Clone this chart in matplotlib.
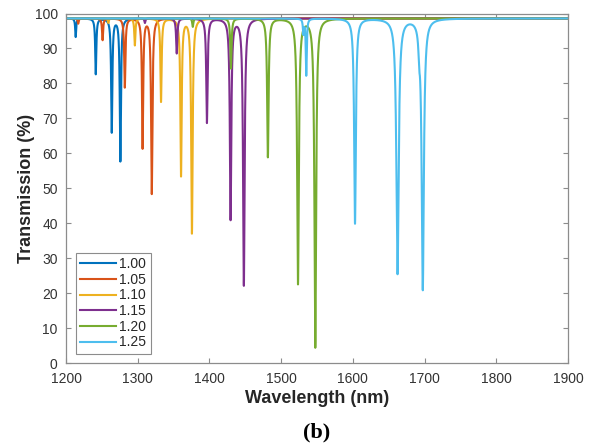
import numpy as np
import matplotlib
matplotlib.use("Agg")
import matplotlib.pyplot as plt

# ---- data (dip centre [nm], dip minimum [%], half width [nm]) ----
labels = ["1.00", "1.05", "1.10", "1.15", "1.20", "1.25"]
colors = ["#0072BD", "#D95319", "#EDB120", "#7E2F8E", "#77AC30", "#4DBEEE"]
baseline = 98.6

centers_100 = [1213.5, 1241.5, 1263.8, 1275.8]
minima_100 = [93.3, 82.7, 66.2, 57.9]
widths_100 = [0.8, 0.9, 1.0, 1.0]

centers_105 = [1217.0, 1251.0, 1282.0, 1306.8, 1319.6]
minima_105 = [97.1, 92.4, 78.9, 61.7, 48.6]
widths_105 = [0.8, 0.9, 1.0, 1.0, 1.1]

centers_110 = [1259.0, 1296.0, 1332.5, 1360.4, 1375.6]
minima_110 = [97.3, 90.9, 74.8, 53.8, 37.3]
widths_110 = [0.8, 0.9, 1.0, 1.1, 1.2]

centers_115 = [1310.0, 1354.4, 1396.5, 1429.5, 1448.0]
minima_115 = [97.3, 88.6, 68.8, 41.3, 22.4]
widths_115 = [0.8, 1.0, 1.1, 1.2, 1.3]

centers_120 = [1376.8, 1430.0, 1481.5, 1523.5, 1547.6]
minima_120 = [96.2, 84.3, 59.0, 22.9, 4.7]
widths_120 = [0.9, 1.0, 1.2, 1.4, 1.4]

centers_125 = [1531.0, 1535.0, 1603.0, 1662.3, 1692.5, 1697.5]
minima_125 = [94.5, 82.4, 40.0, 25.7, 93.0, 21.4]
widths_125 = [0.8, 0.8, 1.4, 1.9, 1.2, 1.8]

series = [
    (centers_100, minima_100, widths_100),
    (centers_105, minima_105, widths_105),
    (centers_110, minima_110, widths_110),
    (centers_115, minima_115, widths_115),
    (centers_120, minima_120, widths_120),
    (centers_125, minima_125, widths_125),
]

x_ticks = [1200, 1300, 1400, 1500, 1600, 1700, 1800, 1900]
y_ticks = [0, 10, 20, 30, 40, 50, 60, 70, 80, 90, 100]

wl = np.arange(1200.0, 1900.0001, 0.05)


def spectrum(centers, minima, widths):
    t = np.full_like(wl, baseline)
    for c, m, g in zip(centers, minima, widths):
        t -= (baseline - m) * g**2 / ((wl - c) ** 2 + g**2)
    return np.clip(t, 0, 100)


plt.rcParams["font.family"] = ["Liberation Sans", "DejaVu Sans"]

fig = plt.figure(figsize=(5.99, 4.47), dpi=100)
ax = fig.add_axes([66 / 599, 1 - 363.3 / 447, (568 - 66) / 599, (363.3 - 13.5) / 447])

for (c, m, g), lab, col in zip(series, labels, colors):
    ax.plot(wl, spectrum(c, m, g), color=col, lw=1.5, label=lab)

ax.set_xlim(1200, 1900)
ax.set_ylim(0, 100)
ax.set_xticks(x_ticks)
ax.set_yticks(y_ticks)

spine_col = "#8c8c8c"
for s in ax.spines.values():
    s.set_color(spine_col)
    s.set_linewidth(0.9)
ax.tick_params(direction="in", length=3.6, width=0.8, color=spine_col,
               top=True, right=True, labelsize=10, labelcolor="#333333")
ax.tick_params(axis="x", pad=6)
ax.tick_params(axis="y", pad=6)

ax.set_xlabel("Wavelength (nm)", fontsize=13, fontweight="bold", color="#262626", labelpad=3)
ax.set_ylabel("Transmission (%)", fontsize=13, fontweight="bold", color="#262626", labelpad=0)

leg = ax.legend(loc="lower left", fontsize=10, handlelength=2.6, handletextpad=0.25,
                labelspacing=0.12, borderpad=0.3, borderaxespad=0.7, fancybox=False,
                framealpha=1)
leg.get_frame().set_edgecolor(spine_col)
leg.get_frame().set_linewidth(0.8)
for t in leg.get_texts():
    t.set_color("#262626")

fig.text(317 / 599, 1 - 432 / 447, "(b)", ha="center", va="center",
         fontsize=16, fontweight="bold", family=["Liberation Serif", "DejaVu Serif"])

fig.savefig("out.png", dpi=100)
